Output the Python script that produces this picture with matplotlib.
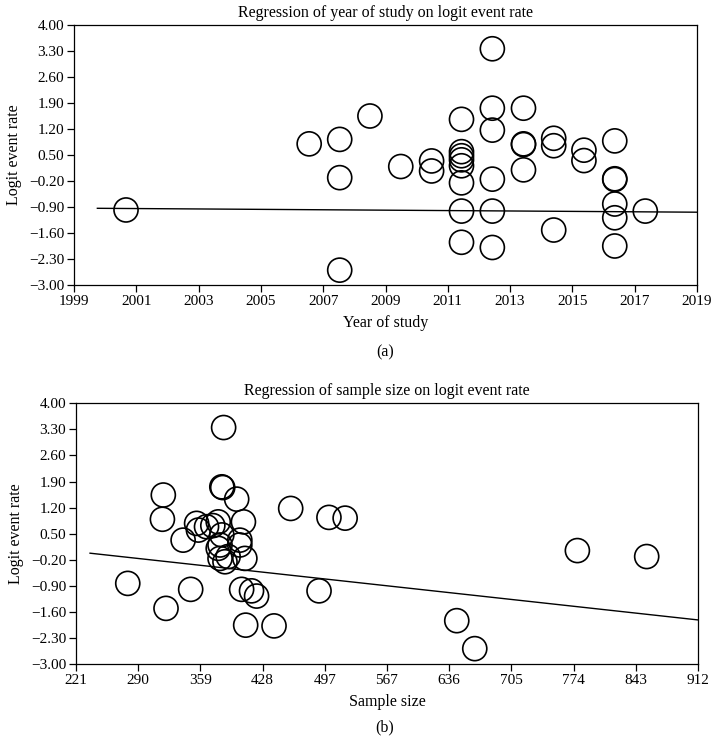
import numpy as np
import matplotlib
matplotlib.use("Agg")
import matplotlib.pyplot as plt

plt.rcParams['font.family'] = ['Liberation Serif', 'DejaVu Serif']
plt.rcParams['font.size'] = 11

# (a) year of study vs logit event rate
year = [2000.67, 2006.55, 2007.53, 2007.53, 2007.53, 2008.5, 2009.49, 2010.48, 2010.48,
        2011.44, 2011.44, 2011.44, 2011.44, 2011.44, 2011.44, 2011.44, 2011.44,
        2012.43, 2012.43, 2012.43, 2012.43, 2012.43, 2012.43,
        2013.43, 2013.43, 2013.43, 2013.43,
        2014.40, 2014.40, 2014.40, 2015.37, 2015.37,
        2016.36, 2016.36, 2016.36, 2016.36, 2016.36, 2016.36, 2017.34]
logit_a = [-0.98, 0.80, 0.92, -0.11, -2.60, 1.55, 0.19, 0.34, 0.07,
           1.46, 0.59, 0.48, 0.37, 0.21, -0.25, -1.01, -1.85,
           3.36, 1.76, 1.17, -0.15, -1.01, -1.99,
           1.76, 0.80, 0.78, 0.10,
           0.95, 0.75, -1.52, 0.63, 0.35,
           0.88, -0.14, -0.16, -0.82, -1.19, -1.95, -1.01]
line_a_x = [1999.75, 2019.0]
line_a_y = [-0.935, -1.04]

# (b) sample size vs logit event rate
sample = [385, 318, 383, 384, 399.5, 459.5, 502, 520, 317, 355, 357, 366, 379, 407,
          340, 383, 381, 403, 403, 379, 381, 390, 386.5, 408.6, 373,
          278.5, 348.4, 405, 416, 421.6, 491, 321, 409.5, 441,
          778, 855, 644, 664]
logit_b = [3.35, 1.54, 1.76, 1.74, 1.43, 1.18, 0.94, 0.92, 0.89, 0.78, 0.60, 0.69, 0.82, 0.82,
           0.33, 0.47, 0.20, 0.33, 0.20, 0.11, -0.16, -0.11, -0.25, -0.16, 0.72,
           -0.83, -0.99, -0.99, -1.03, -1.17, -1.03, -1.50, -1.95, -1.97,
           0.05, -0.11, -1.83, -2.58]
line_b_x = [236.6, 912.0]
line_b_y = [-0.02, -1.81]

y_ticks = [-3.0, -2.3, -1.6, -0.9, -0.2, 0.5, 1.2, 1.9, 2.6, 3.3, 4.0]
y_labels = ['\u22123.00', '\u22122.30', '\u22121.60', '\u22120.90', '\u22120.20',
            '0.50', '1.20', '1.90', '2.60', '3.30', '4.00']
year_ticks = list(range(1999, 2020, 2))
sample_ticks = [221 + 69.1 * i for i in range(11)]
sample_labels = ['221', '290', '359', '428', '497', '567', '636', '705', '774', '843', '912']

fig = plt.figure(figsize=(7.14, 7.43), dpi=100)
ax1 = fig.add_axes([74 / 714, 1 - 285 / 743, (697 - 74) / 714, 260 / 743])
ax2 = fig.add_axes([76 / 714, 1 - 664.3 / 743, (698 - 76) / 714, 261 / 743])


def style(ax, title, xlabel):
    ax.set_ylim(-3.0, 4.0)
    ax.set_yticks(y_ticks)
    ax.set_yticklabels(y_labels)
    ax.set_title(title, fontsize=11.5, pad=6)
    ax.set_xlabel(xlabel, fontsize=11.5, labelpad=5)
    ax.set_ylabel('Logit event rate', fontsize=11.5, labelpad=5)
    ax.tick_params(direction='out', length=5, width=0.9, labelsize=11, pad=2)
    for s in ax.spines.values():
        s.set_linewidth(0.9)


ax1.scatter(year, logit_a, s=300, facecolors='none', edgecolors='black', linewidths=1.2, zorder=3)
ax1.plot(line_a_x, line_a_y, color='black', lw=1.0)
ax1.set_xlim(1999, 2019)
ax1.set_xticks(year_ticks)
style(ax1, 'Regression of year of study on logit event rate', 'Year of study')

ax2.scatter(sample, logit_b, s=300, facecolors='none', edgecolors='black', linewidths=1.2, zorder=3)
ax2.plot(line_b_x, line_b_y, color='black', lw=1.0)
ax2.set_xlim(221, 912)
ax2.set_xticks(sample_ticks)
ax2.set_xticklabels(sample_labels)
style(ax2, 'Regression of sample size on logit event rate', 'Sample size')

fig.text(0.539, 1 - 352 / 743, '(a)', ha='center', va='center', fontsize=11.5)
fig.text(0.539, 1 - 727 / 743, '(b)', ha='center', va='center', fontsize=11.5)

fig.savefig('out.png', dpi=100)
